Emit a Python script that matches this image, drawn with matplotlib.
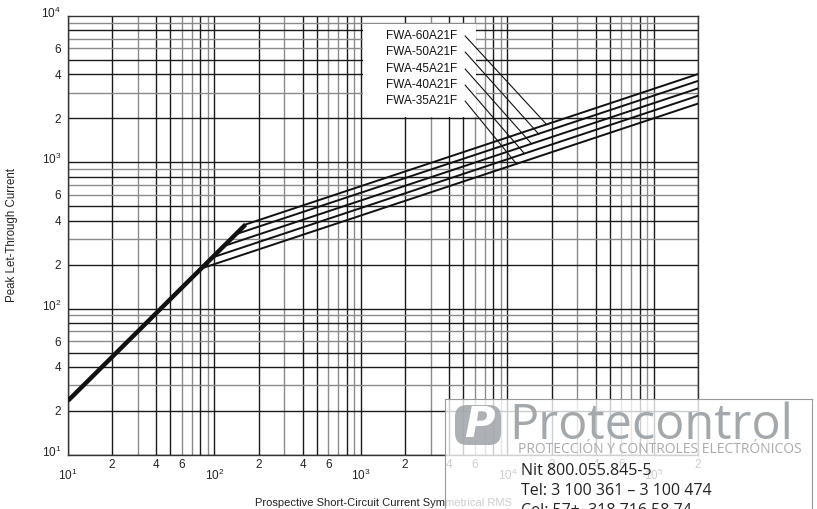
import numpy as np
import matplotlib
matplotlib.use("Agg")
import matplotlib.pyplot as plt
from matplotlib.ticker import LogLocator, FuncFormatter
from matplotlib.patches import Rectangle, FancyBboxPatch
import matplotlib.transforms as mtransforms

plt.rcParams['font.family'] = ['Liberation Sans', 'DejaVu Sans']
plt.rcParams['mathtext.fontset'] = 'custom'
plt.rcParams['mathtext.rm'] = 'Liberation Sans'
plt.rcParams['mathtext.it'] = 'Liberation Sans:italic'
plt.rcParams['mathtext.bf'] = 'Liberation Sans:bold'

# Data (log-log)
fuses = ["FWA-35A21F", "FWA-40A21F", "FWA-45A21F", "FWA-50A21F", "FWA-60A21F"]
knee_x = [81, 97, 116, 139, 163]          # prospective current where curve leaves the 2.3x line
knee_y = [188, 224, 268, 322, 376]        # peak let-through at the knee
end_x = 2e5
end_y = [2520, 2850, 3200, 3600, 4010]    # peak let-through at right edge
base_x = [10, 163]
base_y = [23.5, 376]

# label positions and leader ends
label_y = [2617, 3365, 4335, 5666, 7295]
leader_end_x = [11530, 13060, 14600, 16300, 18500]

fig = plt.figure(figsize=(8.17, 5.09), dpi=100)
ax = fig.add_axes([68/817, 1-455/509, (698-68)/817, (455-16)/509])
ax.set_xscale('log')
ax.set_yscale('log')
ax.set_xlim(10, 2e5)
ax.set_ylim(10, 1e4)

# grid drawn by hand: darker and lighter lines
dark = [1, 2, 4, 5, 8]
for dec in [10, 100, 1000, 10000, 100000]:
    for m in range(1, 10):
        v = dec * m
        if v < 10 or v > 2e5:
            continue
        c = '#1a1a1a' if m in dark else '#8a8a8a'
        ax.axvline(v, color=c, lw=1.0, zorder=1)
for dec in [10, 100, 1000]:
    for m in range(1, 10):
        v = dec * m
        c = '#1a1a1a' if m in dark else '#8a8a8a'
        ax.axhline(v, color=c, lw=1.0, zorder=1)

# white box behind the labels
ax.add_patch(Rectangle((1032, 2032), 6138 - 1032, 8810 - 2032,
                       facecolor='white', edgecolor='none', zorder=2))

# curves
ax.plot(base_x, base_y, color='#111111', lw=3.2, solid_capstyle='butt', zorder=4)
for kx, ky, ey in zip(knee_x, knee_y, end_y):
    ax.plot([kx, end_x], [ky, ey], color='#111111', lw=1.4, zorder=3)

# labels with leader lines
for name, ly, lx, kx, ky, ey in zip(fuses, label_y, leader_end_x, knee_x, knee_y, end_y):
    ax.text(4550, ly, name, ha='right', va='center', fontsize=8.5, color='#111111', zorder=5)
    cy = 10 ** np.interp(np.log10(lx), [np.log10(kx), np.log10(end_x)], [np.log10(ky), np.log10(ey)])
    ax.plot([5150, lx], [ly, cy], color='#111111', lw=0.8, zorder=5)

for s in ax.spines.values():
    s.set_color('#333333')
    s.set_linewidth(1.0)

# ticks
sub_fmt = FuncFormatter(lambda v, _: str(int(round(v / 10 ** np.floor(np.log10(v) + 1e-9)))))
for axis in (ax.xaxis, ax.yaxis):
    axis.set_major_locator(LogLocator(base=10, numticks=10))
    axis.set_minor_locator(LogLocator(base=10, subs=(2, 4, 6), numticks=10))
    axis.set_minor_formatter(sub_fmt)
ax.tick_params(which='both', length=0, labelsize=8.5, colors='#222222')
ax.tick_params(axis='x', which='minor', pad=3)
ax.tick_params(axis='x', which='major', pad=9)
ax.tick_params(axis='y', which='both', pad=5)

off = mtransforms.ScaledTranslation(0, 4/100, fig.dpi_scale_trans)
for lbl in ax.yaxis.get_majorticklabels():
    lbl.set_transform(lbl.get_transform() + off)

ax.set_xlabel("Prospective Short-Circuit Current Symmetrical RMS", fontsize=8, color='#222222', labelpad=11)
ax.set_ylabel("Peak Let-Through Current", fontsize=8.3, color='#222222', labelpad=17)

# watermark overlay
wm = fig.add_axes([445/817, 0, (812-445)/817, (509-399)/509])
wm.set_xlim(0, 367)
wm.set_ylim(0, 110)
wm.patch.set_facecolor('white')
wm.patch.set_alpha(0.78)
wm.set_xticks([])
wm.set_yticks([])
for s in wm.spines.values():
    s.set_color('#999999')
    s.set_linewidth(0.8)
wm.spines['bottom'].set_visible(False)
wm.add_patch(FancyBboxPatch((10, 64), 46, 40, boxstyle="round,pad=0,rounding_size=12",
                            facecolor='#9fa4a9', edgecolor='none', alpha=0.85))
wm.text(34, 84, "P", fontsize=30, fontweight='bold', style='italic', color='white',
        ha='center', va='center', family=['DejaVu Sans'])
wm.text(64, 70, "Protecontrol", fontsize=35, color='#a3a8ac', ha='left', va='baseline',
        family=['Open Sans', 'DejaVu Sans'])
wm.text(73, 56, "PROTECCIÓN Y CONTROLES ELECTRÓNICOS", fontsize=10, color='#a8acb0',
        ha='left', va='baseline', family=['Open Sans', 'DejaVu Sans'])
wm.text(76, 34, "Nit 800.055.845-5", fontsize=11.5, color='#222222', ha='left', va='baseline',
        family=['Open Sans', 'DejaVu Sans'])
wm.text(76, 14, "Tel: 3 100 361 – 3 100 474", fontsize=11.5, color='#222222', ha='left',
        va='baseline', family=['Open Sans', 'DejaVu Sans'])
wm.text(76, -6, "Cel: 57+  318 716 58 74", fontsize=11.5, color='#222222', ha='left',
        va='baseline', family=['Open Sans', 'DejaVu Sans'], clip_on=False)

fig.savefig("out.png", dpi=100)
